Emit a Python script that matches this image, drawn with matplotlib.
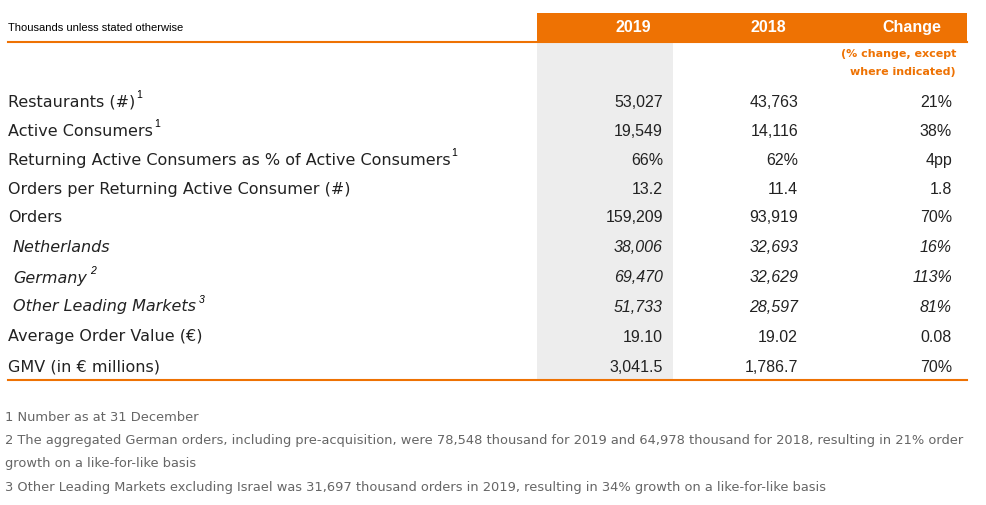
import matplotlib.pyplot as plt
from matplotlib.patches import Rectangle

W, H = 987, 506
ORANGE = '#ee7203'

labels = ['Restaurants (#)', 'Active Consumers', 'Returning Active Consumers as % of Active Consumers',
          'Orders per Returning Active Consumer (#)', 'Orders', 'Netherlands', 'Germany',
          'Other Leading Markets', 'Average Order Value (€)', 'GMV (in € millions)']
sups = ['1', '1', '1', '', '', '', '2', '3', '', '']
italic = [False] * 5 + [True] * 3 + [False] * 2
v2019 = ['53,027', '19,549', '66%', '13.2', '159,209', '38,006', '69,470', '51,733', '19.10', '3,041.5']
v2018 = ['43,763', '14,116', '62%', '11.4', '93,919', '32,693', '32,629', '28,597', '19.02', '1,786.7']
change = ['21%', '38%', '4pp', '1.8', '70%', '16%', '113%', '81%', '0.08', '70%']
footnotes = ['1 Number as at 31 December',
             '2 The aggregated German orders, including pre-acquisition, were 78,548 thousand for 2019 and 64,978 thousand for 2018, resulting in 21% order',
             'growth on a like-for-like basis',
             '3 Other Leading Markets excluding Israel was 31,697 thousand orders in 2019, resulting in 34% growth on a like-for-like basis']

plt.rcParams['font.family'] = ['Liberation Sans', 'DejaVu Sans']
WIDE = ['DejaVu Sans']
fig = plt.figure(figsize=(W / 100, H / 100), dpi=100)
ax = fig.add_axes([0, 0, 1, 1])
ax.set_xlim(0, W)
ax.set_ylim(H, 0)
ax.axis('off')

# header
ax.add_patch(Rectangle((537, 14), 430, 29, color=ORANGE, lw=0))
ax.add_patch(Rectangle((537, 43), 136, 338, color='#ededed', lw=0))
ax.plot([8, 967], [43, 43], color=ORANGE, lw=1.5)
ax.plot([8, 967], [381, 381], color=ORANGE, lw=1.5)
ax.text(8, 28, 'Thousands unless stated otherwise', fontsize=8, va='center')
for x, t in [(633, '2019'), (768, '2018'), (912, 'Change')]:
    ax.text(x, 27, t, fontsize=11.5, color='white', weight='bold', ha='center', va='center')
ax.text(956, 54, '(% change, except', fontsize=8, color=ORANGE, weight='bold', ha='right', va='center', family=WIDE)
ax.text(956, 72, 'where indicated)', fontsize=8, color=ORANGE, weight='bold', ha='right', va='center', family=WIDE)

row_y = [102, 131, 160, 189, 218, 248, 278, 307, 337, 367]
for i, y in enumerate(row_y):
    st = 'italic' if italic[i] else 'normal'
    x0 = 13 if italic[i] else 8
    t = ax.text(x0, y, labels[i], fontsize=11.5, style=st, va='center', color='#222222', family=WIDE)
    if sups[i]:
        fig.canvas.draw()
        bb = t.get_window_extent()
        ax.text(bb.x1 + (3 if italic[i] else 1), y - 7, sups[i], fontsize=7.5, style=st, va='center')
    ax.text(663, y, v2019[i], fontsize=11.5, style=st, ha='right', va='center', color='#222222')
    ax.text(798, y, v2018[i], fontsize=11.5, style=st, ha='right', va='center', color='#222222')
    ax.text(952, y, change[i], fontsize=11.5, style=st, ha='right', va='center', color='#222222')

for y, f in zip([418, 441, 464, 488], footnotes):
    ax.text(5, y, f, fontsize=9.4, color='#666666', va='center', family=WIDE)

fig.savefig('out.png', dpi=100)
